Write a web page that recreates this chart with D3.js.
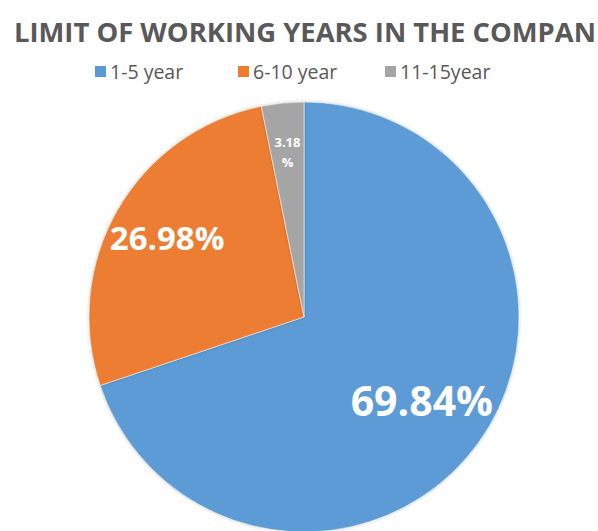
<!DOCTYPE html>
<html>
<head>
<meta charset="utf-8">
<script src="https://cdn.jsdelivr.net/npm/d3@7"></script>
<style>
  html, body { margin: 0; padding: 0; background: #ffffff; overflow: hidden; }
  svg { display: block; }
</style>
</head>
<body>
<svg id="chart" width="598" height="531"></svg>
<script>
// Share of employees by years worked in the company
const categories = ["1-5 year", "6-10 year", "11-15year"];
const shares = [69.84, 26.98, 3.18];
const labels = ["69.84%", "26.98%", "3.18\n%"];
const colors = ["#5B9BD5", "#ED7D31", "#A5A5A5"];
const title = "LIMIT OF WORKING YEARS IN THE COMPAN";

const svg = d3.select("#chart");
const font = "'Open Sans', 'DejaVu Sans', sans-serif";

// Title
svg.append("text")
  .attr("x", 14)
  .attr("y", 42)
  .attr("font-family", font)
  .attr("font-weight", 700)
  .attr("font-size", 27.4)
  .attr("fill", "#595959")
  .text(title);

// Legend
const legendX = [95, 238, 385];
const legend = svg.append("g");
categories.forEach((c, i) => {
  const g = legend.append("g").attr("transform", `translate(${legendX[i]},72)`);
  g.append("rect").attr("x", 0).attr("y", -6).attr("width", 11).attr("height", 11).attr("fill", colors[i]);
  g.append("text")
    .attr("x", 15).attr("y", 7)
    .attr("font-family", font)
    .attr("font-size", 19.5)
    .attr("fill", "#595959")
    .text(c);
});

// Pie
const cx = 304, cy = 317, r = 215;
const data = categories.map((c, i) => ({ c, v: shares[i], label: labels[i], color: colors[i] }));
const pie = d3.pie().value(d => d.v).sort(null);
const arc = d3.arc().innerRadius(0).outerRadius(r);
const arcs = pie(data);

const defs = svg.append("defs");
const f = defs.append("filter").attr("id", "shadow").attr("x", "-10%").attr("y", "-10%").attr("width", "120%").attr("height", "120%");
f.append("feDropShadow").attr("dx", 0).attr("dy", 0).attr("stdDeviation", 1.5).attr("flood-color", "#000").attr("flood-opacity", 0.25);

const pg = svg.append("g").attr("transform", `translate(${cx},${cy})`);
pg.selectAll("path")
  .data(arcs)
  .join("path")
  .attr("d", arc)
  .attr("fill", d => d.data.color)
  .attr("stroke", "#ffffff")
  .attr("stroke-opacity", 0.5)
  .attr("stroke-width", 1)
  .attr("filter", "url(#shadow)");

// Value labels, placed along each slice's bisector
const labelPos = [
  { rad: 0.675, size: 41, lh: 0 },
  { rad: 0.735, size: 33, lh: 0 },
  { rad: 0.77, size: 13, lh: 20 }
];
arcs.forEach((a, i) => {
  const mid = (a.startAngle + a.endAngle) / 2;
  const lr = r * labelPos[i].rad;
  const x = Math.sin(mid) * lr;
  const y = -Math.cos(mid) * lr;
  const lines = a.data.label.split("\n");
  const size = labelPos[i].size;
  const t = pg.append("text")
    .attr("text-anchor", "middle")
    .attr("font-family", font)
    .attr("font-weight", 700)
    .attr("font-size", size)
    .attr("fill", "#ffffff");
  lines.forEach((ln, j) => {
    t.append("tspan")
      .attr("x", x)
      .attr("y", y + (j - (lines.length - 1) / 2) * labelPos[i].lh)
      .attr("dy", "0.35em")
      .text(ln);
  });
});
</script>
</body>
</html>
